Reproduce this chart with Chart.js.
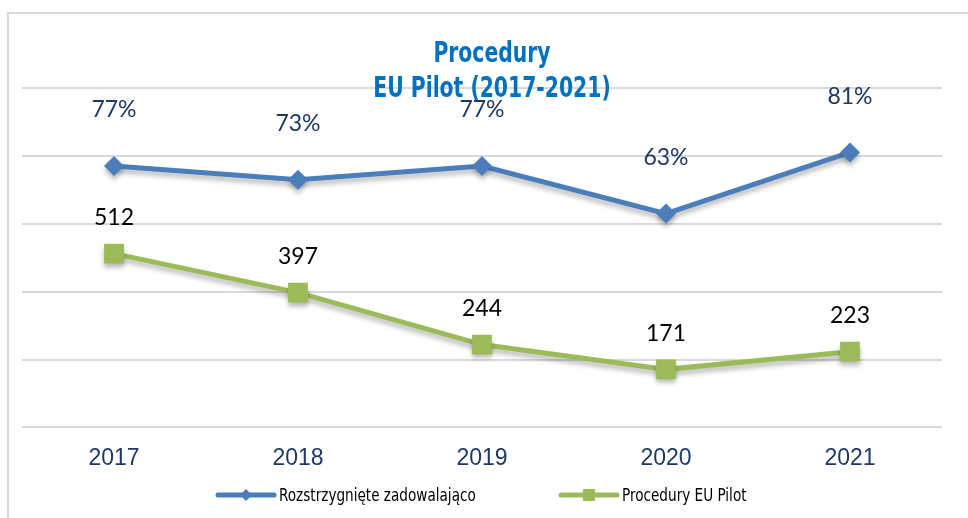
<!DOCTYPE html>
<html>
<head>
<meta charset="utf-8">
<script src="https://cdn.jsdelivr.net/npm/chart.js@4/dist/chart.umd.min.js"></script>
<style>
  html, body { margin: 0; padding: 0; background: #fff; }
  #wrap { width: 968px; height: 518px; }
</style>
</head>
<body>
<div id="wrap"><canvas id="pilotChart" width="968" height="518"></canvas></div>
<script>
const lata = ['2017', '2018', '2019', '2020', '2021'];
const rozstrzygniete = [77, 73, 77, 63, 81]; // %
const procedury = [512, 397, 244, 171, 223];
const nazwySerii = ['Rozstrzygnięte zadowalająco', 'Procedury EU Pilot'];
const tytul = ['Procedury', 'EU Pilot (2017-2021)'];

const NIEBIESKI = '#4A7EBB';
const ZIELONY = '#9BBB59';
const GRANAT = '#1F3864';
const WASKI = "'DejaVu Sans Condensed', 'Liberation Sans', sans-serif";

// tekst sciesniony w poziomie (brak waskiego fontu)
function tekstWaski(c, txt, x, y, skala) {
  c.save();
  c.translate(x, y);
  c.scale(skala, 1);
  c.fillText(txt, 0, 0);
  c.restore();
}

// ramka, tytul, etykiety danych i legenda
const dodatki = {
  id: 'dodatki',
  beforeDraw(chart) {
    const c = chart.ctx;
    c.save();
    c.strokeStyle = '#d9d9d9';
    c.lineWidth = 2;
    c.strokeRect(8, 13, 1000, 560);
    c.restore();
  },
  beforeDatasetsDraw(chart) {
    const c = chart.ctx;
    c.save();
    c.shadowColor = 'rgba(0,0,0,0.28)';
    c.shadowBlur = 5;
    c.shadowOffsetY = 4;
  },
  afterDatasetsDraw(chart) {
    chart.ctx.restore();
  },
  afterDraw(chart) {
    const c = chart.ctx;
    c.save();
    // tytul
    c.fillStyle = '#0070C0';
    c.font = 'bold 29px ' + WASKI;
    c.textAlign = 'center';
    c.textBaseline = 'alphabetic';
    tekstWaski(c, tytul[0], 492, 62, 0.78);
    tekstWaski(c, tytul[1], 492, 97, 0.78);

    // etykiety danych
    c.textBaseline = 'middle';
    c.font = '23px Lato, "Open Sans", sans-serif';
    chart.getDatasetMeta(0).data.forEach((p, i) => {
      c.fillStyle = GRANAT;
      c.fillText(rozstrzygniete[i] + '%', p.x, p.y - 56);
    });
    chart.getDatasetMeta(1).data.forEach((p, i) => {
      c.fillStyle = '#000';
      c.fillText(String(procedury[i]), p.x, p.y - 36);
    });

    // legenda
    const ly = 495;
    const pozycje = [218, 561];
    const kolory = [NIEBIESKI, ZIELONY];
    c.font = '18px ' + WASKI;
    c.textAlign = 'left';
    pozycje.forEach((x, i) => {
      c.strokeStyle = kolory[i];
      c.fillStyle = kolory[i];
      c.lineWidth = 5;
      c.lineCap = 'round';
      c.beginPath();
      c.moveTo(x, ly);
      c.lineTo(x + 56, ly);
      c.stroke();
      if (i === 0) {
        c.beginPath();
        c.moveTo(x + 28, ly - 6);
        c.lineTo(x + 34, ly);
        c.lineTo(x + 28, ly + 6);
        c.lineTo(x + 22, ly);
        c.closePath();
        c.fill();
      } else {
        c.fillRect(x + 22, ly - 6, 12, 12);
      }
      c.fillStyle = '#000';
      tekstWaski(c, nazwySerii[i], x + 61, ly + 1, 0.84);
    });
    c.restore();
  }
};

const ctx = document.getElementById('pilotChart').getContext('2d');
const wykres = new Chart(ctx, {
  type: 'line',
  data: {
    labels: lata,
    datasets: [
      {
        label: nazwySerii[0],
        data: rozstrzygniete,
        yAxisID: 'yProc',
        borderColor: NIEBIESKI,
        backgroundColor: NIEBIESKI,
        borderWidth: 5,
        pointStyle: 'rectRot',
        pointRadius: 10,
        pointBorderWidth: 0,
        tension: 0
      },
      {
        label: nazwySerii[1],
        data: procedury,
        yAxisID: 'yLiczba',
        borderColor: ZIELONY,
        backgroundColor: ZIELONY,
        borderWidth: 5,
        pointStyle: 'rect',
        pointRadius: 14,
        pointBorderWidth: 0,
        tension: 0
      }
    ]
  },
  options: {
    responsive: false,
    animation: false,
    layout: { padding: { top: 88, left: 22, right: 26, bottom: 37 } },
    plugins: {
      legend: { display: false },
      tooltip: { enabled: false },
      title: { display: false }
    },
    scales: {
      x: {
        offset: true,
        grid: { display: false },
        border: { display: false },
        ticks: {
          color: GRANAT,
          padding: 9,
          font: { family: '"Liberation Sans", Arial, sans-serif', size: 23 }
        }
      },
      yLiczba: {
        position: 'left',
        min: 0,
        max: 1000,
        ticks: { display: false, stepSize: 200 },
        grid: { color: '#d9d9d9', lineWidth: 2, drawTicks: false },
        border: { display: false }
      },
      yProc: {
        position: 'right',
        min: 0,
        max: 100,
        ticks: { display: false, stepSize: 20 },
        grid: { display: false, drawTicks: false },
        border: { display: false }
      }
    }
  },
  plugins: [dodatki]
});
</script>
</body>
</html>
